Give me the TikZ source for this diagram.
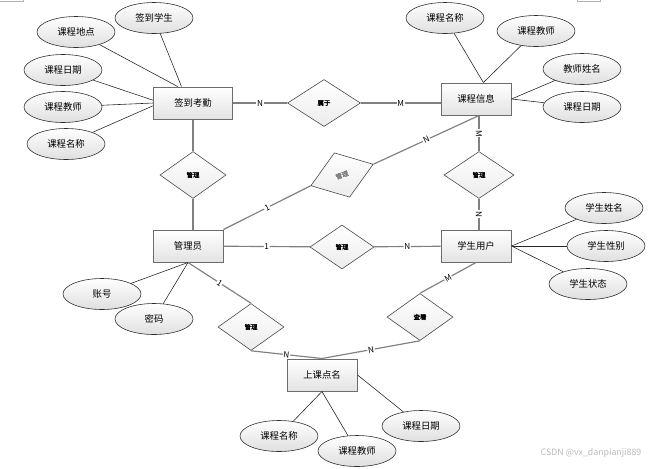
\documentclass[tikz,border=0pt]{standalone}
\usepackage{fontspec}
\setmainfont{Noto Sans CJK SC}
\newfontfamily\relfont[AutoFakeBold=2]{Noto Sans CJK SC}
\usetikzlibrary{shapes.geometric}

\begin{document}
\begin{tikzpicture}[x=0.03cm,y=-0.03cm,
    ent/.style={draw=gray!85!black,line width=.85pt,top color=white,bottom color=gray!22,
        minimum width=2.1cm,minimum height=.96cm,inner sep=1pt,font=\fontsize{8}{9}\selectfont},
    attr/.style={ellipse,draw=gray!35!black,line width=.5pt,top color=white,bottom color=gray!25,
        minimum width=2.34cm,minimum height=.93cm,inner sep=0pt,font=\fontsize{8}{9}\selectfont},
    rel/.style={diamond,draw=gray!55!black,line width=.5pt,top color=white,bottom color=gray!15,
        minimum width=1.98cm,minimum height=1.41cm,inner sep=0pt,font=\relfont\bfseries\fontsize{5.5}{6}\selectfont},
    link/.style={draw=gray,line width=1pt},
    attrline/.style={draw=gray!30!black,line width=.5pt},
    card/.style={fill=white,inner sep=.6pt,midway,sloped,font=\fontsize{7}{8}\selectfont}]
    \useasboundingbox (0,0) rectangle (669,468);
    \draw[gray!60] (0,1.5) -- (23,1.5) -- (23,0);
    \draw[gray!60] (577,0) -- (577,1.5) -- (600,1.5) -- (600,0);
    % entities
    \node[ent,minimum width=2.37cm] (qdkq) at (193,103) {签到考勤};
    \node[ent] (kcxx) at (476,99) {课程信息};
    \node[ent] (gly) at (188,246) {管理员};
    \node[ent] (xsyh) at (476,246) {学生用户};
    \node[ent] (skdm) at (322,375) {上课点名};
    % relations
    \node[rel,minimum width=2.19cm] (sy) at (324,103) {属于};
    \node[rel] (gl1) at (193,175) {管理};
    \node[rel,rotate=19,text=gray] (gl2) at (342,175) {管理};
    \node[rel,minimum width=2.1cm] (gl3) at (479,175) {管理};
    \node[rel,minimum width=1.92cm,minimum height=1.32cm] (gl4) at (342,247) {管理};
    \node[rel] (gl5) at (251,327) {管理};
    \node[rel] (ck) at (420,317) {查看};
    % attributes
    \node[attr] (qdxs) at (154,18) {签到学生};
    \node[attr] (kcdd) at (76,32) {课程地点};
    \node[attr] (kcrq1) at (63,70) {课程日期};
    \node[attr] (kcjs1) at (63,107) {课程教师};
    \node[attr] (kcmc1) at (66,144) {课程名称};
    \node[attr] (kcmc2) at (445,18) {课程名称};
    \node[attr] (kcjs2) at (536,31) {课程教师};
    \node[attr] (jsxm) at (582,69) {教师姓名};
    \node[attr] (kcrq2) at (582,107) {课程日期};
    \node[attr] (xsxm) at (604,208) {学生姓名};
    \node[attr] (xsxb) at (606,246) {学生性别};
    \node[attr] (xszt) at (588,284) {学生状态};
    \node[attr] (zh) at (102,294) {账号};
    \node[attr] (mm) at (154,319) {密码};
    \node[attr] (kcmc3) at (279,436) {课程名称};
    \node[attr] (kcjs3) at (357,451) {课程教师};
    \node[attr] (kcrq3) at (421,426) {课程日期};
    \draw[attrline] (qdxs) -- (qdkq.125);
    \draw[attrline] (kcdd) -- (qdkq.133);
    \draw[attrline] (kcrq1) -- (qdkq.176);
    \draw[attrline] (kcjs1) -- (qdkq.west);
    \draw[attrline] (kcmc1) -- (qdkq.184);
    \draw[attrline] (kcmc2) -- (kcxx.66);
    \draw[attrline] (kcjs2) -- (kcxx.66);
    \draw[attrline] (jsxm) -- (kcxx.east);
    \draw[attrline] (kcrq2) -- (kcxx.east);
    \draw[attrline] (xsxm) -- (xsyh.east);
    \draw[attrline] (xsxb) -- (xsyh.east);
    \draw[attrline] (xszt) -- (xsyh.east);
    \draw[attrline] (zh) -- (gly.south);
    \draw[attrline] (mm) -- (gly.south);
    \draw[attrline] (kcmc3) -- (skdm.south);
    \draw[attrline] (kcjs3) -- (skdm.south);
    \draw[attrline] (kcrq3) -- (skdm.east);
    % links
    \draw[link] (qdkq) -- node[card] {N} (sy);
    \draw[link] (sy) -- node[card] {M} (sy -| kcxx.west);
    \draw[link] (qdkq) -- (gl1);
    \draw[link] (gl1) -- (gl1 |- gly.north);
    \draw[link] (gly.north east) -- node[card] {1} (gl2.west);
    \draw[link] (gl2.east) -- node[card] {N} (kcxx.south -| gl3);
    \draw[link] (gl3 |- kcxx.south) -- node[card] {M} (gl3);
    \draw[link] (gl3) -- node[card] {N} (gl3 |- xsyh.north);
    \draw[link] (gly) -- node[card] {1} (gl4);
    \draw[link] (gl4) -- node[card] {N} (xsyh);
    \draw[link] (xsyh.south) -- node[card] {M} (ck.north);
    \draw[link] (ck.south) -- node[card] {N} (skdm.north);
    \draw[link] (gly.south) -- node[card] {1} (gl5.north);
    \draw[link] (gl5.south) -- node[card] {N} (skdm.north);
    \node[text=gray!55,font=\fontsize{7.5}{8}\selectfont] (wm) at (591,453) {CSDN @vx\_danpianji889};
\end{tikzpicture}
\end{document}
